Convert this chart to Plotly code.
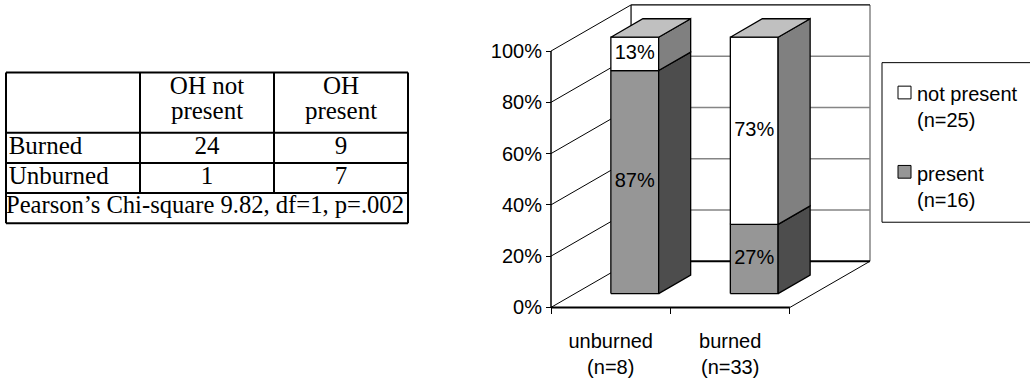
import plotly.graph_objects as go

# ---------------- data ----------------
categories = ["unburned", "burned"]
category_n = [8, 33]
series_names = ["not present", "present"]
series_n = [25, 16]
present_pct = [87, 27]
not_present_pct = [13, 73]
pct_ticks = [0, 20, 40, 60, 80, 100]

table_header = [["OH not", "present"], ["OH", "present"]]
table_row_labels = ["Burned", "Unburned"]
table_counts = [[24, 9], [1, 7]]
table_footer = "Pearson’s Chi-square 9.82, df=1, p=.002"

# ---------------- styling / geometry ----------------
W, H = 1030, 381
SANS = "Liberation Sans, Arial, sans-serif"
SERIF = "Liberation Serif, Times New Roman, serif"

# chart frame in pixels: front plane left & floor, back wall top & right
CH_L, CH_R, CH_T, CH_B = 551, 870, 5, 314
DX, DY = 0.67, 18.0          # depth offset (category units, percent units)
BAR_HALF = 0.2               # half bar width in category units
F0, F1 = 0.3, 0.7            # bar front / back depth fractions
PAD = 3

PRESENT_FRONT, PRESENT_SIDE = "#969696", "#4d4d4d"
ABSENT_FRONT, ABSENT_SIDE, BAR_TOP = "#ffffff", "#808080", "#c0c0c0"
GRID_GREY = "#858585"

# table frame in pixels
TB_L, TB_R, TB_T, TB_B = 6, 408, 74, 228

fig = go.Figure()


def seg_trace(segments, color, width, xa="x", ya="y"):
    xs, ys = [], []
    for (x0, y0), (x1, y1) in segments:
        xs += [x0, x1, None]
        ys += [y0, y1, None]
    fig.add_trace(go.Scatter(x=xs, y=ys, mode="lines", xaxis=xa, yaxis=ya,
                             line=dict(color=color, width=width),
                             hoverinfo="skip", showlegend=False))


def face(points, fill):
    xs = [p[0] for p in points] + [points[0][0]]
    ys = [p[1] for p in points] + [points[0][1]]
    fig.add_trace(go.Scatter(x=xs, y=ys, mode="lines", fill="toself",
                             fillcolor=fill, line=dict(color="black", width=1.3),
                             hoverinfo="skip", showlegend=False))


# ---------- walls, floor and gridlines ----------
back_l, back_r = -0.5 + DX, 1.5 + DX
seg_trace([((back_l, v + DY), (back_r, v + DY)) for v in pct_ticks[1:-1]]
          + [((back_r, DY), (back_r, 100 + DY))], GRID_GREY, 1.5)
seg_trace([((back_l, 100 + DY), (back_r, 100 + DY)),
           ((back_l, DY), (back_l, 100 + DY))], "black", 1.2)
seg_trace([((-0.5, v), (-0.5 + DX, v + DY)) for v in pct_ticks], "black", 1)
seg_trace([((back_l, DY), (back_r, DY))], "black", 2)
seg_trace([((1.5, 0), (1.5 + DX, DY))], "black", 1)
seg_trace([((-0.5, 0), (1.5, 0))], "black", 2)
seg_trace([((-0.5, 0), (-0.5, 100))], "black", 1.5)

# ---------- stacked 3-D bars ----------
label_x, label_y, label_t = [], [], []
for i in range(len(categories)):
    xl, xr = i - BAR_HALF, i + BAR_HALF
    stack = [(0, present_pct[i], PRESENT_FRONT, PRESENT_SIDE),
             (present_pct[i], present_pct[i] + not_present_pct[i], ABSENT_FRONT, ABSENT_SIDE)]
    for y0, y1, front, side in stack:
        face([(xl + F0 * DX, y0 + F0 * DY), (xr + F0 * DX, y0 + F0 * DY),
              (xr + F0 * DX, y1 + F0 * DY), (xl + F0 * DX, y1 + F0 * DY)], front)
        face([(xr + F0 * DX, y0 + F0 * DY), (xr + F1 * DX, y0 + F1 * DY),
              (xr + F1 * DX, y1 + F1 * DY), (xr + F0 * DX, y1 + F0 * DY)], side)
        label_x.append(i + F0 * DX)
        label_y.append((y0 + y1) / 2 + F0 * DY)
        label_t.append(f"{round(y1 - y0)}%")
    top = stack[-1][1]
    face([(xl + F0 * DX, top + F0 * DY), (xr + F0 * DX, top + F0 * DY),
          (xr + F1 * DX, top + F1 * DY), (xl + F1 * DX, top + F1 * DY)], BAR_TOP)

fig.add_trace(go.Scatter(x=label_x, y=label_y, text=label_t, mode="text",
                         textposition="middle center",
                         textfont=dict(family=SANS, size=20, color="black"),
                         hoverinfo="skip", showlegend=False))

# ---------- contingency table ----------
n_cols = 3
seg_trace([((0, r), (n_cols, r)) for r in [0, 1, 2, 3, 5]]
          + [((0, 0), (0, 5)), ((n_cols, 0), (n_cols, 5))]
          + [((c, 1), (c, 5)) for c in [1, 2]], "black", 2, "x2", "y2")

tx, ty, tt, tpos = [], [], [], []
for c, lines in enumerate(table_header):
    for ly, line in zip([4.5, 3.66], lines):
        tx.append(c + 1.5); ty.append(ly); tt.append(line); tpos.append("middle center")
for r, (lab, counts) in enumerate(zip(table_row_labels, table_counts)):
    ry = 2.5 - r
    tx.append(0.02); ty.append(ry); tt.append(lab); tpos.append("middle right")
    for c, v in enumerate(counts):
        tx.append(c + 1.5); ty.append(ry); tt.append(str(v)); tpos.append("middle center")
fig.add_trace(go.Scatter(x=tx, y=ty, text=tt, mode="text", textposition=tpos,
                         xaxis="x2", yaxis="y2", cliponaxis=False,
                         textfont=dict(family=SERIF, size=25, color="black"),
                         hoverinfo="skip", showlegend=False))
fig.add_trace(go.Scatter(x=[0.0], y=[0.55], text=[table_footer], mode="text",
                         textposition="middle right",
                         xaxis="x2", yaxis="y2", cliponaxis=False,
                         textfont=dict(family=SERIF, size=24.6, color="black"),
                         hoverinfo="skip", showlegend=False))

# ---------- axes ----------
ux = (2 + DX) / (CH_R - CH_L)
uy = (100 + DY) / (CH_B - CH_T)
tux = n_cols / (TB_R - TB_L)
tuy = 5 / (TB_B - TB_T)

fig.update_layout(
    width=W, height=H, margin=dict(l=0, r=0, t=0, b=0),
    paper_bgcolor="white", plot_bgcolor="rgba(0,0,0,0)", showlegend=False,
    font=dict(family=SANS, size=20, color="black"),
    xaxis=dict(domain=[(CH_L - PAD) / W, (CH_R + PAD) / W],
               range=[-0.5 - PAD * ux, 1.5 + DX + PAD * ux],
               anchor="free", position=(H - CH_B) / H,
               tickmode="array", tickvals=list(range(len(categories))),
               ticktext=[f"{c}<br>(n={n})" for c, n in zip(categories, category_n)],
               ticks="", showgrid=False, zeroline=False, showline=False,
               ticklabelstandoff=20,
               minor=dict(tickmode="array", tickvals=[-0.5, 0.5, 1.5], ticks="outside",
                          ticklen=6, tickwidth=1, tickcolor="black", showgrid=False),
               tickfont=dict(family=SANS, size=20, color="black"), fixedrange=True),
    yaxis=dict(domain=[(H - CH_B - PAD) / H, (H - CH_T + PAD) / H],
               range=[-PAD * uy, 100 + DY + PAD * uy],
               anchor="free", position=CH_L / W,
               tickmode="array", tickvals=pct_ticks,
               ticktext=[f"{v}%" for v in pct_ticks],
               ticks="outside", ticklen=5, tickwidth=1, tickcolor="black",
               showgrid=False, zeroline=False, showline=False,
               tickfont=dict(family=SANS, size=20, color="black"), fixedrange=True),
    xaxis2=dict(domain=[(TB_L - PAD) / W, (TB_R + PAD) / W],
                range=[-PAD * tux, n_cols + PAD * tux], anchor="y2",
                visible=False, fixedrange=True),
    yaxis2=dict(domain=[(H - TB_B - PAD) / H, (H - TB_T + PAD) / H],
                range=[-PAD * tuy, 5 + PAD * tuy], anchor="x2",
                visible=False, fixedrange=True),
)

# ---------- legend ----------
LG_L, LG_T, LG_B = 882, 64, 227
fig.add_shape(type="rect", xref="paper", yref="paper",
              x0=LG_L / W, x1=1034 / W, y0=1 - LG_B / H, y1=1 - LG_T / H,
              line=dict(color="black", width=1), fillcolor="white", layer="below")
for name, n, col, cy in zip(series_names, series_n,
                            [ABSENT_FRONT, PRESENT_FRONT], [94, 175]):
    fig.add_shape(type="rect", xref="paper", yref="paper",
                  x0=898 / W, x1=911 / W, y0=1 - (cy + 7) / H, y1=1 - (cy - 6) / H,
                  line=dict(color="black", width=1), fillcolor=col)
    fig.add_annotation(xref="paper", yref="paper", x=915 / W, y=1 - (cy - 11) / H,
                       xanchor="left", yanchor="top", align="left", showarrow=False,
                       text=f"{name}<br>(n={n})",
                       font=dict(family=SANS, size=20, color="black"))

fig.write_html("out.html")
